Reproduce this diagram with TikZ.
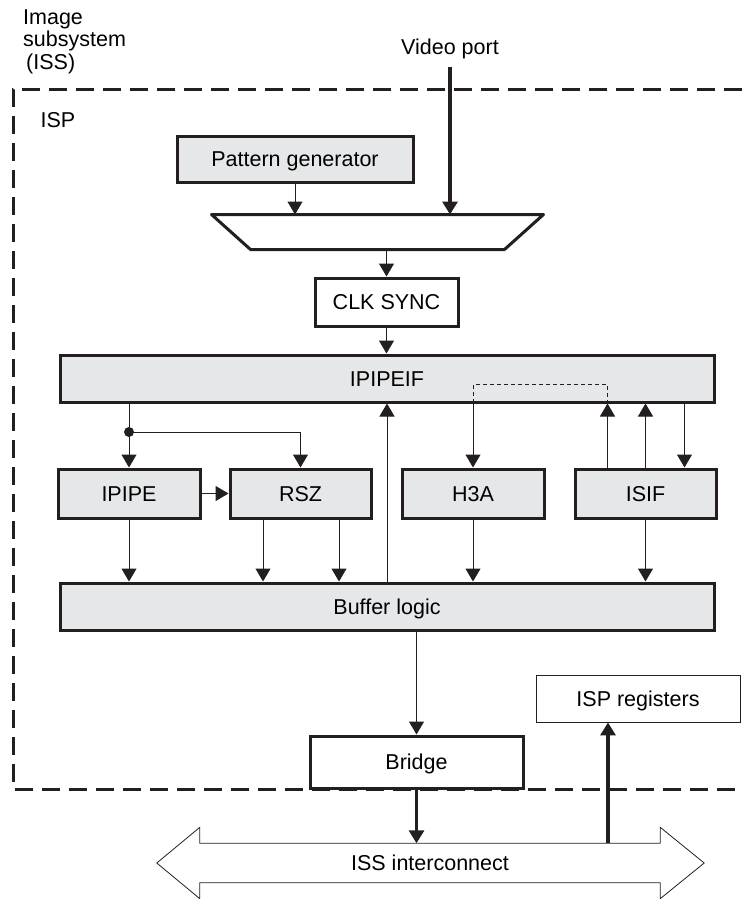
\documentclass[tikz,border=0pt]{standalone}
\usepackage{fontspec}
\setmainfont{Liberation Sans}
\usetikzlibrary{positioning,arrows.meta,calc}
\definecolor{blockgray}{HTML}{E6E7E8}
\definecolor{inkline}{HTML}{231F20}
\tikzset{
  block/.style={draw=inkline,line width=3pt,fill=blockgray,minimum height=47pt,inner sep=0pt,text height=15.4pt,text depth=0pt},
  plainblock/.style={block,fill=white},
  regblock/.style={block,fill=white,line width=0.9pt},
  sig/.style={draw=inkline,line width=1pt,-{Triangle[width=15pt,length=13pt]}},
  bus/.style={sig,line width=3.5pt},
  tap/.style={draw=inkline,line width=0.8pt,dash pattern=on 4pt off 3pt},
  frame/.style={draw=inkline,line width=3pt,dash pattern=on 18pt off 9pt},
}

\begin{document}
\begin{tikzpicture}[x=1pt,y=-1pt,font=\fontsize{21.5}{22.5}\selectfont]
\useasboundingbox (0,0) rectangle (742,899);

% ISP frame
\draw[frame] (742,89) -| (13,789) -- (742,789);

\node[align=left,anchor=north west,inner sep=0pt] (isslabel) at (23,9.5) {Image\\subsystem\\\hspace{3pt}(ISS)};
\node[inner sep=0pt] (isplabel) at (58,120) {ISP};
\node[inner sep=0pt,outer sep=7.5pt,anchor=base] (vport) at (450,55) {Video port};

\node[block,minimum width=236pt,minimum height=46pt] (patgen) at (295,159) {Pattern generator};
\node[minimum width=329pt,minimum height=32pt,inner sep=0pt,outer sep=1.5pt] (mux) at (377.5,232) {};
\draw[draw=inkline,line width=3pt,line join=round] (mux.north west) -- (mux.north east)
  -- ([xshift=-39pt]mux.south east) -- ([xshift=39pt]mux.south west) -- cycle;
\node[plainblock,minimum width=143pt,minimum height=48pt] (clksync) at (386.5,302) {CLK SYNC};
\node[block,minimum width=654pt] (ipipeif) at (387,378.5) {IPIPEIF};

\node[block,minimum width=142pt,minimum height=49pt] (ipipe) at (129,493.5) {IPIPE};
\node[block,minimum width=141pt,minimum height=49pt] (rsz) at (300.5,493.5) {RSZ};
\node[block,minimum width=142pt,minimum height=49pt] (h3a) at (473,493.5) {H3A};
\node[block,minimum width=141pt,minimum height=49pt] (isif) at (645.5,493.5) {ISIF};

\node[block,minimum width=654pt] (buffer) at (387,606.5) {Buffer logic};
\node[regblock,minimum width=204pt] (ispreg) at (638,698.5) {ISP registers};
\node[plainblock,minimum width=213pt,minimum height=52pt] (bridge) at (416.5,762) {Bridge};

% interconnect
\node[minimum width=460pt,minimum height=39pt,inner sep=0pt,text height=15.4pt,text depth=0pt] (issbus) at (430,863) {ISS interconnect};
\draw[draw=inkline,line width=0.8pt] (issbus.north west) -- (issbus.north east)
  -- ([yshift=16pt]issbus.north east) -- ([xshift=44pt]issbus.east)
  -- ([yshift=-16pt]issbus.south east) -- (issbus.south east)
  -- (issbus.south west) -- ([yshift=-16pt]issbus.south west)
  -- ([xshift=-43pt]issbus.west) -- ([yshift=16pt]issbus.north west) -- cycle;

\draw[sig] (patgen.south) -- (patgen.south |- mux.north);
\draw[bus] (vport.south) -- (vport.south |- mux.north);
\draw[sig] (clksync.north |- mux.south) -- (clksync.north);
\draw[sig] (clksync.south) -- (clksync.south |- ipipeif.north);

\coordinate (split) at (ipipe.north |- 0,432);
\draw[sig] (ipipe.north |- ipipeif.south) -- (ipipe.north);
\fill[inkline] (split) circle[radius=5pt];
\draw[sig] (split) -| (rsz.north);
\draw[sig] (ipipe.east) -- (rsz.west);
\draw[sig] (buffer.north) -- (ipipeif.south);

% H3A fed through the dashed tap
\coordinate (tap) at ($(isif.north |- ipipeif.south)+(-38,-19)$);
\coordinate (isifin) at ([xshift=39pt]isif.north);
\draw[tap] (tap |- ipipeif.south) -- (tap) -| (h3a.north |- ipipeif.south);
\draw[sig] (h3a.north |- ipipeif.south) -- (h3a.north);
\draw[sig] (tap |- isif.north) -- (tap |- ipipeif.south);
\draw[sig] (isif.north) -- (isif.north |- ipipeif.south);
\draw[sig] (isifin |- ipipeif.south) -- (isifin);

\coordinate (rszA) at ([xshift=-37.5pt]rsz.south);
\coordinate (rszB) at ([xshift=38.5pt]rsz.south);
\draw[sig] (ipipe.south) -- (ipipe.south |- buffer.north);
\draw[sig] (rszA) -- (rszA |- buffer.north);
\draw[sig] (rszB) -- (rszB |- buffer.north);
\draw[sig] (h3a.south) -- (h3a.south |- buffer.north);
\draw[sig] (isif.south) -- (isif.south |- buffer.north);

\coordinate (regin) at ([xshift=-30pt]ispreg.south);
\draw[sig] (bridge.north |- buffer.south) -- (bridge.north);
\draw[bus] (bridge.south) -- (bridge.south |- issbus.north);
\draw[bus] (regin |- issbus.north) -- (regin);

\end{tikzpicture}
\end{document}
